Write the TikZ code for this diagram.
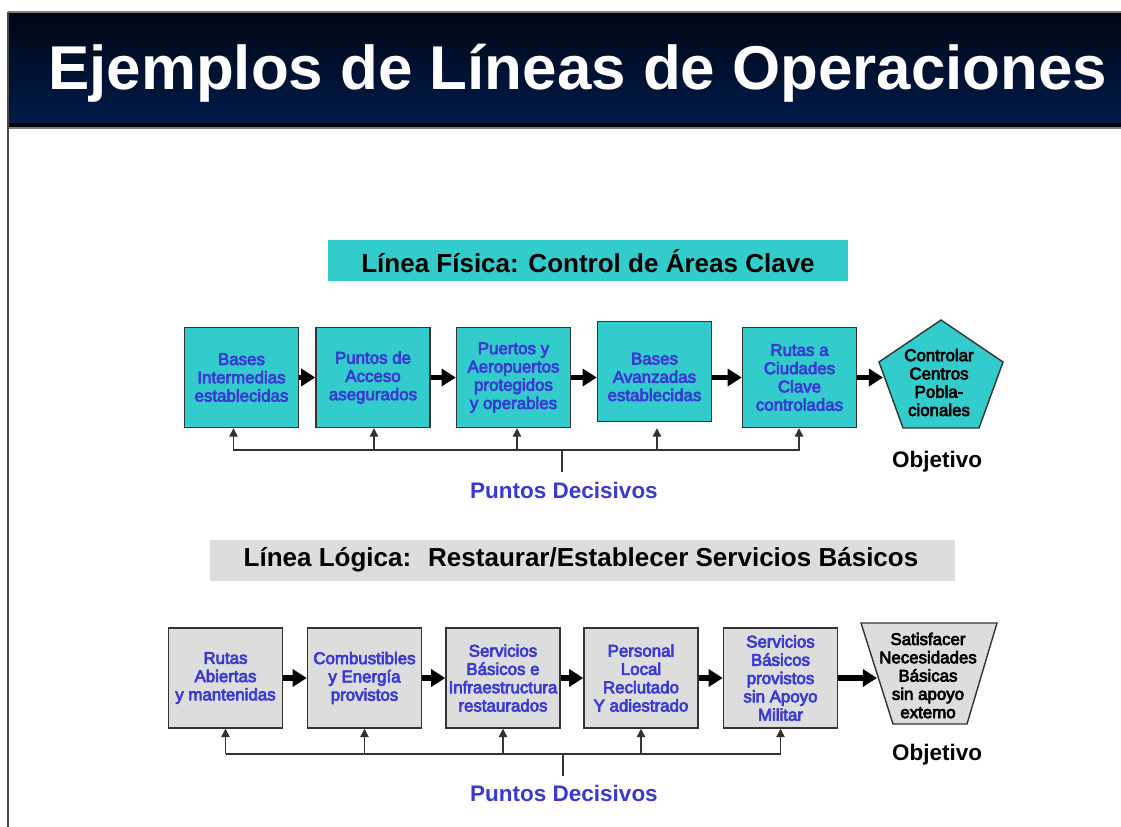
\documentclass[tikz,border=0pt]{standalone}
\usepackage{fontspec}
\setmainfont{Liberation Sans}
\newfontfamily\cajafont{Liberation Sans}[FakeBold=4]
\usepackage{xcolor}
\usetikzlibrary{arrows.meta,positioning,calc}

\definecolor{cian}{RGB}{51,204,204}
\definecolor{gris}{RGB}{221,221,221}
\definecolor{azulTxt}{RGB}{58,58,210}
\definecolor{navyTop}{RGB}{0,6,20}
\definecolor{navyBot}{RGB}{0,28,76}

\begin{document}
\begin{tikzpicture}[x=0.025cm, y=-0.025cm,
	caja/.style={draw=black!80, line width=1pt, minimum width=2.85cm, minimum height=2.5cm,
		align=center, inner sep=0pt, text=azulTxt, font=\cajafont\fontsize{12}{13}\selectfont},
	objtxt/.style={align=center, inner sep=0pt, font=\cajafont\fontsize{12}{13}\selectfont},
	flecha/.style={-{Triangle[length=10pt,width=12pt]}, line width=4pt},
	retro/.style={-{Triangle[length=6pt,width=6pt]}, line width=0.9pt, draw=black!80},
	linea/.style={line width=0.9pt, draw=black!80},
	titulo/.style={inner sep=0pt, font=\bfseries\fontsize{18.5}{20}\selectfont},
	puntos/.style={text=azulTxt, inner sep=0pt, font=\bfseries\fontsize{16}{18}\selectfont}]

	\newcommand{\W}{1121}
	\newcommand{\Hght}{827}
	\newcommand{\yA}{377.5}
	\newcommand{\yB}{678}
	\useasboundingbox (0,0) rectangle (\W,\Hght);

	% encabezado
	\shade[top color=navyTop, bottom color=navyBot] (8,12) rectangle (\W,123);
	\fill[black] (8,123) rectangle (\W,128);
	\draw[gray, line width=0.8pt] (8,12) -- (\W,12);
	\draw[gray, line width=0.8pt] (8,128) -- (\W,128);
	\draw[gray!60!black, line width=1.2pt] (8,12) -- (8,\Hght);
	\node[anchor=base west, inner sep=0pt, text=white, font=\bfseries\fontsize{44}{50}\selectfont]
		(enc) at (48,90) {Ejemplos de Líneas de Operaciones};

	% linea fisica
	\fill[cian] (328,240) rectangle (848,281);
	\node[titulo] (tFis) at (588,261) {Línea Física: Control de Áreas Clave};

	\node[caja, fill=cian] (a1) at (241.5,\yA) {Bases\\Intermedias\\establecidas};
	\node[caja, fill=cian] (a2) at (373,\yA) {Puntos de\\Acceso\\asegurados};
	\node[caja, fill=cian] (a3) at (513.5,\yA) {Puertos y\\Aeropuertos\\protegidos\\y operables};
	\node[caja, fill=cian] (a4) at (654.5,371.5) {};
	\node[caja, draw=none] (a4txt) at (654.5,377) {Bases\\Avanzadas\\establecidas};
	\node[caja, fill=cian] (a5) at (799.5,\yA) {Rutas a\\Ciudades\\Clave\\controladas};

	\draw[draw=black!80, line width=1pt, fill=cian] (941,320) -- (1003,362) -- (979,428) -- (903,428) -- (879,362) -- cycle;
	\node[objtxt] (aObj) at (939,382.5) {Controlar\\Centros\\Pobla-\\cionales};
	\coordinate (aPent) at (883,\yA);

	\draw[flecha] (a1) -- (a2);
	\draw[flecha] (a2) -- (a3);
	\draw[flecha] (a3.east) -- (a3.east -| a4.west);
	\draw[flecha] (a4.east) ++(0,6) -- (a5.west);
	\draw[flecha] (a5.east) -- (aPent);

	\coordinate (aBar) at (562,450);
	\foreach \n/\dx in {a1/-8,a2/1,a3/3.5,a4/2.5,a5/-0.5}{
		\draw[retro] ([xshift=\dx*0.025cm]\n.south |- aBar) -- ([xshift=\dx*0.025cm]\n.south |- a1.south);
	}
	\draw[linea] ([xshift=-0.2cm]a1.south |- aBar) -- (a5.south |- aBar);
	\node[puntos] (aPuntos) at (564,490) {Puntos Decisivos};
	\draw[linea] (aBar) -- (aBar |- 0,472);
	\node[inner sep=0pt, font=\bfseries\fontsize{16}{18}\selectfont] (aObjetivo) at (937,462) {Objetivo};

	% linea logica
	\fill[gris] (210,540) rectangle (955,581);
	\node[titulo] (tLog) at (581,560) {Línea Lógica:~ Restaurar/Establecer Servicios Básicos};

	\node[caja, fill=gris] (b1) at (225.5,\yB) {Rutas\\Abiertas\\y mantenidas};
	\node[caja, fill=gris] (b2) at (364.5,\yB) {Combustibles\\y Energía\\provistos};
	\node[caja, fill=gris] (b3) at (503,\yB) {Servicios\\Básicos e\\Infraestructura\\restaurados};
	\node[caja, fill=gris] (b4) at (641,\yB) {Personal\\Local\\Reclutado\\Y adiestrado};
	\node[caja, fill=gris] (b5) at (780.5,\yB) {Servicios\\Básicos\\provistos\\sin Apoyo\\Militar};

	\draw[draw=black!80, line width=1pt, fill=gris] (861,623) -- (997,623) -- (967,724) -- (893,724) -- cycle;
	\node[objtxt] (bObj) at (928,675.5) {Satisfacer\\Necesidades\\Básicas\\sin apoyo\\extemo};
	\coordinate (bTrap) at (877,\yB);

	\draw[flecha] (b1) -- (b2);
	\draw[flecha] (b2) -- (b3);
	\draw[flecha] (b3) -- (b4);
	\draw[flecha] (b4) -- (b5);
	\draw[flecha] (b5.east) -- (bTrap);

	\coordinate (bBar) at (563,754);
	\foreach \n in {b1,b2,b3,b4,b5}{
		\draw[retro] (\n.south |- bBar) -- (\n.south);
	}
	\draw[linea] (b1.south |- bBar) -- (b5.south |- bBar);
	\draw[linea] (bBar) -- (bBar |- 0,776);
	\node[puntos] (bPuntos) at (564,793) {Puntos Decisivos};
	\node[inner sep=0pt, font=\bfseries\fontsize{16}{18}\selectfont] (bObjetivo) at (937,755) {Objetivo};
\end{tikzpicture}
\end{document}
